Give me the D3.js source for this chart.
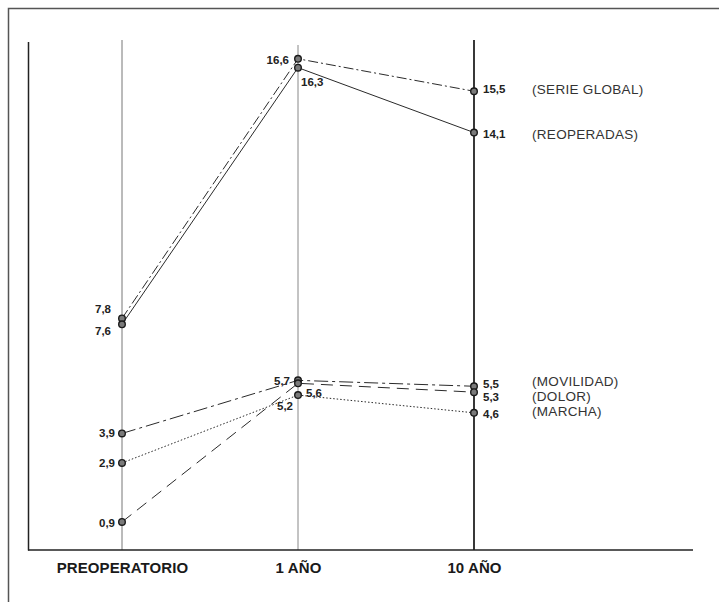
<!DOCTYPE html>
<html>
<head>
<meta charset="utf-8">
<script src="https://cdn.jsdelivr.net/npm/d3@7"></script>
<style>
  html, body { margin: 0; padding: 0; background: #fff; }
  svg { display: block; font-family: "Liberation Sans", Arial, sans-serif; }
</style>
</head>
<body>
<svg id="chart" width="719" height="602"></svg>
<script>
// ---- data ----
const categories = ["PREOPERATORIO", "1 AÑO", "10 AÑO"];
const seriesNames = ["(SERIE GLOBAL)", "(REOPERADAS)", "(MOVILIDAD)", "(DOLOR)", "(MARCHA)"];
const serieGlobal = [7.8, 16.6, 15.5];
const reoperadas  = [7.6, 16.3, 14.1];
const movilidad   = [3.9, 5.7, 5.5];
const dolor       = [0.9, 5.6, 5.3];
const marcha      = [2.9, 5.2, 4.6];
const valueLabels = [
  ["7,8", "16,6", "15,5"],
  ["7,6", "16,3", "14,1"],
  ["3,9", "5,7", "5,5"],
  ["0,9", "5,6", "5,3"],
  ["2,9", "5,2", "4,6"]
];
const allSeries = [serieGlobal, reoperadas, movilidad, dolor, marcha];

// ---- styles / placement (not data) ----
const dashes = ["10,3,2,3", null, "14,4,3,4", "12,7", "1.5,2"];
// label offsets per series per category: [anchor, dx, dy(baseline relative to point)]
const labelPlace = [
  [["end", -11, -5], ["end", -9, 5], ["start", 9, 2]],
  [["end", -11, 11], ["start", 3, 18], ["start", 9, 5]],
  [["end", -7, 4], ["end", -8, 5], ["start", 9, 2]],
  [["end", -7, 5], ["start", 8, 14], ["start", 9, 9]],
  [["end", -7, 4], ["end", -5, 15], ["start", 9, 5]]
];
const legendBaseline = [94, 139, 386, 401, 416];

const svg = d3.select("#chart");

const x = d3.scalePoint().domain(categories).range([122, 474]);
const y = d3.scaleLinear().domain([0, 17]).range([548.5, 47]);

// outer frame (left + top)
svg.append("path")
  .attr("d", "M8.5,602 V8.5 H719")
  .attr("fill", "none").attr("stroke", "#555").attr("stroke-width", 1.5);

// vertical category lines
const vTop = [40, 45, 40];
const vColor = ["#777", "#888", "#222"];
const vWidth = [1, 1, 1.8];
categories.forEach((c, i) => {
  svg.append("line")
    .attr("x1", x(c)).attr("x2", x(c))
    .attr("y1", vTop[i]).attr("y2", y(0) + 1.5)
    .attr("stroke", vColor[i]).attr("stroke-width", vWidth[i]);
});

// left axis and bottom axis
svg.append("line").attr("x1", 28.5).attr("x2", 28.5).attr("y1", 42).attr("y2", 550.5)
  .attr("stroke", "#222").attr("stroke-width", 1.5);
svg.append("line").attr("x1", 28).attr("x2", 693).attr("y1", 550).attr("y2", 550)
  .attr("stroke", "#222").attr("stroke-width", 1.5);

// category labels
const xAxis = d3.axisBottom(x).tickSize(0).tickPadding(0);
const gx = svg.append("g").attr("transform", "translate(0,562)").call(xAxis);
gx.select(".domain").remove();
gx.selectAll("text")
  .attr("dy", "0.72em")
  .attr("font-family", "'Liberation Sans', Arial, sans-serif")
  .attr("font-size", 15).attr("font-weight", "bold").attr("fill", "#1a1a1a")
  .attr("letter-spacing", 0.1);

// lines
const line = d3.line().x((d, i) => x(categories[i])).y(d => y(d));
allSeries.forEach((s, si) => {
  svg.append("path")
    .datum(s)
    .attr("d", line)
    .attr("fill", "none")
    .attr("stroke", "#2a2a2a")
    .attr("stroke-width", 1)
    .attr("stroke-dasharray", dashes[si]);
});

// points
allSeries.forEach((s, si) => {
  svg.selectAll(null).data(s).enter().append("circle")
    .attr("cx", (d, i) => x(categories[i]))
    .attr("cy", d => y(d))
    .attr("r", 3.3)
    .attr("fill", "#7a7a7a")
    .attr("stroke", "#1a1a1a")
    .attr("stroke-width", 1.4);
});

// value labels
allSeries.forEach((s, si) => {
  s.forEach((v, i) => {
    const p = labelPlace[si][i];
    svg.append("text")
      .attr("x", x(categories[i]) + p[1])
      .attr("y", y(v) + p[2])
      .attr("text-anchor", p[0])
      .attr("font-size", 11.5).attr("font-weight", "bold").attr("fill", "#222")
      .text(valueLabels[si][i]);
  });
});

// series legend labels
seriesNames.forEach((n, si) => {
  svg.append("text")
    .attr("x", 532).attr("y", legendBaseline[si])
    .attr("font-size", 13.5).attr("fill", "#333")
    .attr("letter-spacing", 0.3)
    .text(n);
});
</script>
</body>
</html>
